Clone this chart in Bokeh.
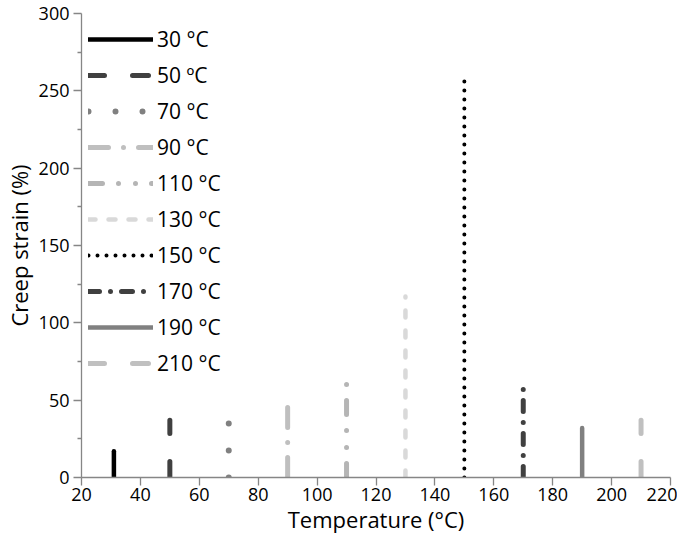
from bokeh.plotting import figure
from bokeh.models import FixedTicker, Range1d
from bokeh.embed import file_html
from bokeh.resources import INLINE

# ---- data ----
labels = ["30 °C", "50 ºC", "70 °C", "90 °C", "110 °C", "130 °C",
          "150 °C", "170 °C", "190 °C", "210 °C"]
temps = [31, 50, 70, 90, 110, 130, 150, 170, 190, 210]
strains = [17, 37, 35, 50, 64, 117, 261, 59, 32, 37]
x_ticks = [20, 40, 60, 80, 100, 120, 140, 160, 180, 200, 220]
y_ticks = [0, 50, 100, 150, 200, 250, 300]
y_minor = [25, 75, 125, 175, 225, 275]

# ---- styles ----
colors = ["#000000", "#404040", "#808080", "#bfbfbf", "#b5b5b5", "#d9d9d9",
          "#000000", "#404040", "#808080", "#c0c0c0"]
widths = [4.5, 5, 6, 5, 5, 4.5, 4, 5, 4.5, 5]
dashes = ["solid", "16 28", "0 27", "20 15 0 15", "14 16 0 17 0 16", "7 13",
          "0 9", "11 11 0 11", "solid", "16 28"]

FONT = "Open Sans"

p = figure(width=677, height=536, output_backend="svg", toolbar_location=None,
           x_range=Range1d(20, 220), y_range=Range1d(0, 300),
           min_border_top=13, min_border_right=7, min_border_left=5,
           min_border_bottom=5)
p.outline_line_color = None
p.xgrid.grid_line_color = None
p.ygrid.grid_line_color = None
p.background_fill_color = "white"
p.border_fill_color = "white"

for lab, t, s, c, w, d in zip(labels, temps, strains, colors, widths, dashes):
    p.line(x=[t, t], y=[0, s], line_color=c, line_width=w, line_dash=d,
           line_cap="round", legend_label=lab)

axis_col = "#868686"
for ax in (p.xaxis[0], p.yaxis[0]):
    ax.axis_line_color = axis_col
    ax.axis_line_width = 1.3
    ax.major_tick_line_color = axis_col
    ax.major_tick_line_width = 1.3
    ax.major_tick_out = 8
    ax.major_tick_in = 0
    ax.major_label_text_font = FONT
    ax.major_label_text_font_size = "18px"
    ax.major_label_text_color = "#000000"
    ax.axis_label_text_font = FONT
    ax.axis_label_text_font_size = "22px"
    ax.axis_label_text_font_style = "normal"
    ax.axis_label_text_color = "#000000"

p.xaxis[0].ticker = FixedTicker(ticks=x_ticks)
p.xaxis[0].minor_tick_line_color = None
p.xaxis[0].axis_label = "Temperature (°C)"
p.xaxis[0].major_label_standoff = 2
p.xaxis[0].axis_label_standoff = 0

p.yaxis[0].ticker = FixedTicker(ticks=y_ticks, minor_ticks=y_minor)
p.yaxis[0].minor_tick_line_color = axis_col
p.yaxis[0].minor_tick_line_width = 1.3
p.yaxis[0].minor_tick_out = 4
p.yaxis[0].minor_tick_in = 0
p.yaxis[0].axis_label = "Creep strain (%)"
p.yaxis[0].major_label_standoff = 4
p.yaxis[0].axis_label_standoff = 2

lg = p.legend[0]
lg.location = (7, 99)
lg.margin = 0
lg.padding = 0
lg.border_line_color = None
lg.background_fill_alpha = 0
lg.glyph_width = 65
lg.glyph_height = 30
lg.label_height = 30
lg.spacing = 6
lg.label_standoff = 4
lg.label_text_font = FONT
lg.label_text_font_size = "21px"
lg.label_text_color = "#000000"

open("out.html", "w").write(file_html(p, INLINE))
